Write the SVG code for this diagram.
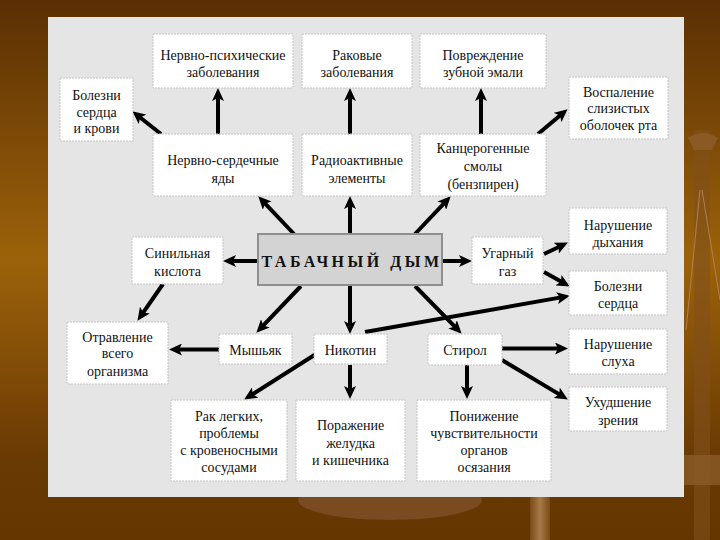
<svg xmlns="http://www.w3.org/2000/svg" width="720" height="540" viewBox="0 0 720 540">
<defs>
<linearGradient id="bg" x1="0" y1="0" x2="0" y2="1">
<stop offset="0" stop-color="#5a2f03"/>
<stop offset="0.48" stop-color="#9c620a"/>
<stop offset="0.85" stop-color="#6a3a04"/>
<stop offset="1" stop-color="#653600"/>
</linearGradient>
<linearGradient id="col" x1="0" y1="0" x2="1" y2="0">
<stop offset="0" stop-color="#7a4a18"/>
<stop offset="0.5" stop-color="#a77a48"/>
<stop offset="1" stop-color="#7a4a18"/>
</linearGradient>
<marker id="ah" markerUnits="userSpaceOnUse" markerWidth="14" markerHeight="12" viewBox="0 0 14 12" refX="7" refY="6" orient="auto">
<path d="M0,0 L13,6 L0,12 L3,6 Z" fill="#000"/>
</marker>
<style>
.box{fill:#fff;stroke:#c4c4c4;stroke-width:1;stroke-dasharray:2 1}
text{font-family:'Liberation Serif','Times New Roman',serif;fill:#111;text-anchor:middle}
.t{font-size:14px}
.h{font-size:16px;font-weight:bold;letter-spacing:3.5px}
.a{stroke:#000;stroke-width:4;fill:none;marker-end:url(#ah)}
</style>
</defs>
<rect width="720" height="540" fill="url(#bg)"/>
<g id="decor">
<rect x="694" y="130" width="16" height="410" fill="#80501c" opacity="0.6"/>
<path d="M688,138 Q702,128 718,138 L712,150 L694,150 Z" fill="#8a5a24"/>
<line x1="700" y1="190" x2="686" y2="330" stroke="#b08050" stroke-width="1"/>
<line x1="702" y1="190" x2="720" y2="300" stroke="#b08050" stroke-width="1"/>
<rect x="684" y="455" width="36" height="30" fill="#8a5a28" opacity="0.8"/>
<ellipse cx="390" cy="500" rx="92" ry="20" fill="#7a4a20"/>
<rect x="530" y="497" width="20" height="43" fill="url(#col)"/>
</g>
<rect id="panel" x="48" y="17" width="636" height="480" fill="#e5e5e5"/>
<g id="connectors">
<line class="a" x1="218" y1="134" x2="218" y2="94"/>
<line class="a" x1="161" y1="134" x2="137" y2="115"/>
<line class="a" x1="350" y1="134" x2="350" y2="94"/>
<line class="a" x1="481" y1="134" x2="481" y2="94"/>
<line class="a" x1="538" y1="134" x2="563" y2="113"/>
<line class="a" x1="294" y1="234" x2="262.4" y2="200.6"/>
<line class="a" x1="350" y1="234" x2="350" y2="202"/>
<line class="a" x1="415" y1="234" x2="446.6" y2="200.6"/>
<line class="a" x1="258" y1="261" x2="229" y2="261"/>
<line class="a" x1="442" y1="261" x2="466" y2="261"/>
<line class="a" x1="544" y1="254" x2="562.5" y2="245.2"/>
<line class="a" x1="544" y1="272" x2="564.6" y2="283.6"/>
<line class="a" x1="163" y1="284" x2="140.9" y2="315.9"/>
<line class="a" x1="301" y1="286" x2="260.5" y2="328.4"/>
<line class="a" x1="350" y1="286" x2="350" y2="328"/>
<line class="a" x1="415" y1="286" x2="457.5" y2="329.4"/>
<line class="a" x1="219" y1="349.5" x2="175" y2="349.5"/>
<line class="a" x1="365" y1="332" x2="564" y2="296.9"/>
<line class="a" x1="316" y1="354" x2="249.2" y2="396.3"/>
<line class="a" x1="350" y1="365" x2="350" y2="393"/>
<line class="a" x1="502" y1="348.5" x2="562" y2="348.5"/>
<line class="a" x1="502" y1="360" x2="562.7" y2="396.4"/>
<line class="a" x1="467" y1="365" x2="467" y2="393"/>
</g>
<g id="n1"><rect class="box" x="153" y="34" width="140" height="54"/><text class="t" x="223" y="60">Нервно-психические</text><text class="t" x="223" y="77">заболевания</text></g>
<g id="n2"><rect class="box" x="302" y="34" width="110" height="54"/><text class="t" x="357" y="60">Раковые</text><text class="t" x="357" y="77">заболевания</text></g>
<g id="n3"><rect class="box" x="420" y="34" width="126" height="54"/><text class="t" x="483" y="60">Повреждение</text><text class="t" x="483" y="77">зубной эмали</text></g>
<g id="n4"><rect class="box" x="60" y="78" width="73" height="63"/><text class="t" x="96.5" y="100">Болезни</text><text class="t" x="96.5" y="116.5">сердца</text><text class="t" x="96.5" y="133">и крови</text></g>
<g id="n5"><rect class="box" x="569" y="77" width="99" height="62"/><text class="t" x="618.5" y="97">Воспаление</text><text class="t" x="618.5" y="113">слизистых</text><text class="t" x="618.5" y="130">оболочек рта</text></g>
<g id="n6"><rect class="box" x="153" y="134" width="140" height="62"/><text class="t" x="223" y="165">Нервно-сердечные</text><text class="t" x="223" y="183">яды</text></g>
<g id="n7"><rect class="box" x="302" y="134" width="110" height="62"/><text class="t" x="357" y="165">Радиоактивные</text><text class="t" x="357" y="183">элементы</text></g>
<g id="n8"><rect class="box" x="420" y="134" width="126" height="62"/><text class="t" x="483" y="153">Канцерогенные</text><text class="t" x="483" y="171">смолы</text><text class="t" x="483" y="189">(бензпирен)</text></g>
<g id="n9"><rect x="258" y="234" width="184" height="51" fill="#d3d3d3" stroke="#8f8f8f" stroke-width="2"/><text class="h" x="352" y="267">ТАБАЧНЫЙ ДЫМ</text></g>
<g id="n10"><rect class="box" x="132" y="237" width="91" height="47"/><text class="t" x="177.5" y="258">Синильная</text><text class="t" x="177.5" y="276">кислота</text></g>
<g id="n11"><rect class="box" x="472" y="237" width="71" height="47"/><text class="t" x="507.5" y="258">Угарный</text><text class="t" x="507.5" y="276">газ</text></g>
<g id="n12"><rect class="box" x="569" y="208" width="98" height="46"/><text class="t" x="618" y="230">Нарушение</text><text class="t" x="618" y="247">дыхания</text></g>
<g id="n13"><rect class="box" x="569" y="271" width="98" height="44"/><text class="t" x="618" y="291">Болезни</text><text class="t" x="618" y="308">сердца</text></g>
<g id="n14"><rect class="box" x="67" y="322" width="101" height="62"/><text class="t" x="117.5" y="342">Отравление</text><text class="t" x="117.5" y="358">всего</text><text class="t" x="117.5" y="376">организма</text></g>
<g id="n15"><rect class="box" x="219" y="334" width="73" height="30"/><text class="t" x="255.5" y="355">Мышьяк</text></g>
<g id="n16"><rect class="box" x="314" y="334" width="73" height="30"/><text class="t" x="350.5" y="355">Никотин</text></g>
<g id="n17"><rect class="box" x="428" y="334" width="74" height="31"/><text class="t" x="465" y="355">Стирол</text></g>
<g id="n18"><rect class="box" x="569" y="329" width="98" height="45"/><text class="t" x="618" y="349">Нарушение</text><text class="t" x="618" y="366">слуха</text></g>
<g id="n19"><rect class="box" x="569" y="387" width="98" height="44"/><text class="t" x="618" y="407">Ухудшение</text><text class="t" x="618" y="425">зрения</text></g>
<g id="n20"><rect class="box" x="171" y="400" width="116" height="81"/><text class="t" x="229" y="421">Рак легких,</text><text class="t" x="229" y="438">проблемы</text><text class="t" x="229" y="455">с кровеносными</text><text class="t" x="229" y="472">сосудами</text></g>
<g id="n21"><rect class="box" x="296" y="400" width="109" height="81"/><text class="t" x="350.5" y="430">Поражение</text><text class="t" x="350.5" y="448">желудка</text><text class="t" x="350.5" y="465">и кишечника</text></g>
<g id="n22"><rect class="box" x="417" y="400" width="134" height="81"/><text class="t" x="484" y="421">Понижение</text><text class="t" x="484" y="438">чувствительности</text><text class="t" x="484" y="455">органов</text><text class="t" x="484" y="472">осязания</text></g>
</svg>
